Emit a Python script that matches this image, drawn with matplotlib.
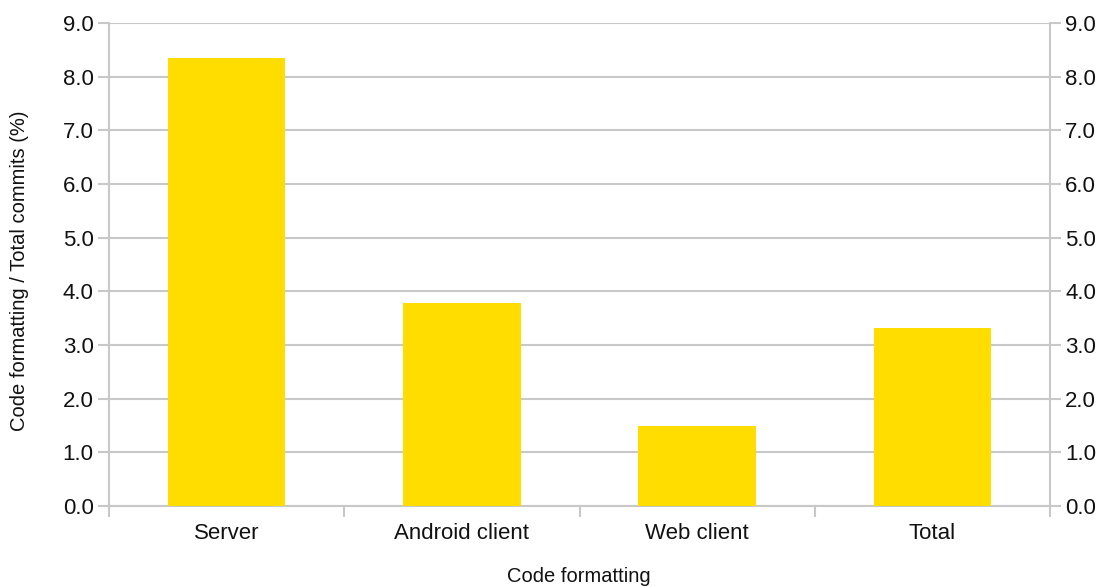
import matplotlib
matplotlib.use("Agg")
import matplotlib.pyplot as plt
import numpy as np

categories = ["Server", "Android client", "Web client", "Total"]
values = [8.34, 3.78, 1.50, 3.32]
yticks = [0, 1, 2, 3, 4, 5, 6, 7, 8, 9]

plt.rcParams['font.family'] = ['Liberation Sans', 'DejaVu Sans']

fig = plt.figure(figsize=(10.99, 5.86), dpi=100)
ax = fig.add_axes([109/1099, 1-506/586, (1050-109)/1099, (506-23)/586])

grid_c = "#c8c8c8"
text_c = "#111111"
x = np.arange(len(categories))
ax.bar(x, values, width=0.5, color="#FFDD00", zorder=3)

ax.set_xlim(-0.5, len(categories)-0.5)
ax.set_ylim(0, 9)
ax.set_yticks(yticks)
ax.set_yticklabels([f"{v:.1f}" for v in yticks], fontsize=16, color=text_c)
ax.yaxis.grid(True, color=grid_c, linewidth=1.5, zorder=0)
ax.set_axisbelow(True)

# category labels at centers, tick marks at boundaries
ax.set_xticks(np.arange(-0.5, len(categories), 1.0))
ax.set_xticklabels([])
ax.set_xticks(x, minor=True)
ax.set_xticklabels(categories, minor=True, fontsize=16, color=text_c)
ax.tick_params(axis='x', which='minor', length=0, pad=12)
ax.tick_params(axis='x', which='major', length=8, width=1.5, color=grid_c, direction='out')
ax.tick_params(axis='y', length=8, width=1.5, color=grid_c, labelsize=16, pad=3,
               right=True, labelright=True, labelcolor=text_c)

ax.spines['top'].set_visible(False)
for s in ['left', 'right', 'bottom']:
    ax.spines[s].set_color(grid_c)
    ax.spines[s].set_linewidth(1.5)

fig.text(20/1099, 1-271/586, "Code formatting / Total commits (%)", fontsize=14.5,
         color=text_c, rotation=90, ha='center', va='center')
fig.text(579/1099, 1-577/586, "Code formatting", fontsize=14.5,
         color=text_c, ha='center', va='center')

fig.savefig("out.png", dpi=100)
